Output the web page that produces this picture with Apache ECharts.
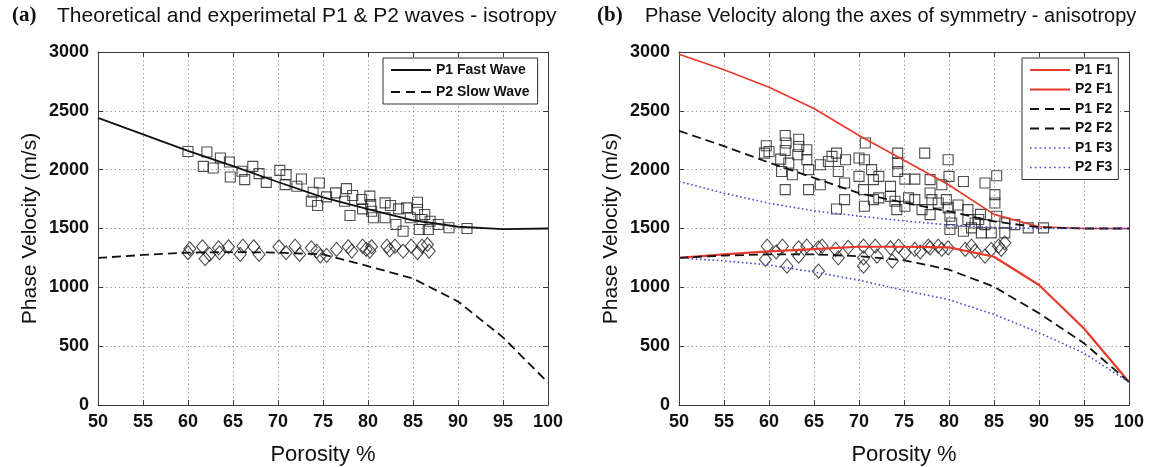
<!DOCTYPE html>
<html>
<head>
<meta charset="utf-8">
<script src="https://cdn.jsdelivr.net/npm/echarts@6/dist/echarts.min.js"></script>
<style>
html,body{margin:0;padding:0;background:#fff;}
#chart{width:1151px;height:467px;}
</style>
</head>
<body>
<div id="chart"></div>
<script>
// ---------- data ----------
var porosity = [50, 55, 60, 65, 70, 75, 80, 85, 90, 95, 100];
var xTicks = [50, 55, 60, 65, 70, 75, 80, 85, 90, 95, 100];
var yTicks = [0, 500, 1000, 1500, 2000, 2500, 3000];

// panel (a) theory
var p1Fast = [2440, 2300, 2160, 2030, 1895, 1765, 1665, 1570, 1515, 1495, 1500];
var p2Slow = [1250, 1275, 1295, 1300, 1295, 1280, 1180, 1075, 880, 575, 190];

// panel (a) experiments [porosity, velocity]
var squaresA = [
  [60.0,2155],[62.1,2150],[61.7,2028],[62.8,2014],[63.6,2099],[64.6,2065],[64.7,1938],[66.0,1986],
  [66.3,1915],[67.2,2028],[67.9,1966],[68.7,1892],[70.2,1994],[70.9,1958],[70.8,1873],[72.1,1859],
  [72.6,1921],[74.6,1887],[73.9,1808],[73.7,1731],[74.4,1695],[75.4,1769],[76.4,1803],[77.6,1839],
  [77.4,1731],[78.3,1780],[78.0,1610],[79.3,1746],[79.4,1667],[80.2,1775],[80.3,1703],[80.4,1646],
  [80.6,1591],[81.9,1718],[82.5,1695],[81.9,1591],[83.1,1534],[83.4,1667],[84.3,1675],[83.9,1477],
  [84.7,1591],[85.5,1723],[85.5,1661],[86.3,1619],[85.7,1491],[86.7,1491],[86.0,1576],[87.8,1534],
  [89.0,1506],[86.9,1562],[91.0,1500]
];
var diamondsA = [
  [60.0,1294],[60.2,1328],[61.6,1345],[61.9,1243],[62.4,1280],[63.4,1336],[63.5,1294],[64.5,1345],
  [65.8,1280],[66.1,1350],[67.3,1345],[67.9,1280],[70.1,1345],[70.9,1294],[71.9,1350],[72.4,1280],
  [73.7,1336],[74.3,1308],[74.7,1266],[75.4,1271],[76.5,1322],[77.8,1345],[78.2,1308],[79.4,1350],
  [79.8,1322],[80.4,1345],[80.2,1308],[82.1,1350],[82.4,1317],[83.0,1350],[83.9,1308],[84.8,1350],
  [85.5,1294],[86.0,1350],[86.6,1364],[86.8,1308]
];

// panel (b) theory
var p1F1 = [2980, 2850, 2700, 2520, 2290, 2080, 1870, 1620, 1515, 1500, 1500];
var p2F1 = [1250, 1280, 1305, 1325, 1345, 1345, 1340, 1260, 1020, 650, 195];
var p1F2 = [2330, 2200, 2060, 1930, 1800, 1720, 1645, 1560, 1510, 1500, 1500];
var p2F2 = [1250, 1270, 1280, 1280, 1265, 1230, 1150, 1005, 780, 525, 195];
var p1F3 = [1900, 1800, 1715, 1650, 1605, 1565, 1530, 1510, 1500, 1500, 1500];
var p2F3 = [1250, 1225, 1190, 1130, 1060, 975, 895, 770, 615, 440, 195];

// panel (b) experiments
var squaresB = [
  [59.7,2203],[60.0,2155],[59.5,2141],[61.8,2290],[61.9,2226],[61.8,2163],[61.3,2090],[61.4,1985],
  [63.3,2259],[63.3,2197],[63.2,2127],[64.2,2169],[64.2,2084],[64.4,2000],[62.2,2056],[62.6,1957],
  [61.8,1830],[64.4,1830],[65.7,2042],[65.7,1872],[67.0,2113],[67.5,2141],[67.7,1985],[68.5,2084],
  [68.4,1887],[68.4,1745],[67.5,1666],[66.6,2070],[70.7,2226],[70.0,2099],[70.6,2084],[70.0,1943],
  [70.5,1830],[70.6,1689],[71.4,2000],[71.6,1915],[72.2,1943],[71.6,1745],[72.2,1760],[73.5,1858],
  [73.5,1773],[74.0,1731],[74.3,2141],[74.3,2056],[74.3,1985],[74.2,1660],[75.1,1920],[76.2,1920],
  [75.5,1760],[76.2,1745],[75.1,1689],[77.3,2141],[77.9,1915],[77.9,1802],[78.1,1745],[77.9,1618],
  [78.8,1717],[79.2,1872],[79.9,2084],[80.0,1943],[79.7,1745],[79.9,1675],[80.1,1604],[80.1,1491],
  [80.3,1547],[81.6,1900],[82.1,1660],[82.1,1576],[81.6,1477],[82.5,1505],[83.3,1576],[84.0,1887],
  [84.0,1533],[85.3,1948],[85.1,1788],[85.1,1717],[85.3,1604],[86.2,1547],[86.2,1463],[87.3,1533],
  [88.8,1505],[90.5,1505],[84.7,1463],[83.6,1463],[82.9,1547],[83.5,1620],[81.0,1700],[77.0,1660]
];
var diamondsB = [
  [59.8,1350],[59.6,1237],[61.5,1350],[62.0,1180],[63.3,1336],[63.3,1265],[64.2,1350],[65.5,1336],
  [65.5,1138],[65.9,1350],[67.4,1322],[67.7,1251],[70.5,1350],[70.5,1251],[70.5,1180],[71.8,1350],
  [72.0,1265],[73.5,1336],[73.7,1223],[74.4,1350],[75.1,1293],[76.2,1322],[77.7,1350],[77.9,1336],
  [78.8,1350],[79.2,1322],[79.9,1336],[81.8,1322],[82.5,1350],[82.9,1308],[84.0,1265],[84.7,1322],
  [85.5,1350],[86.2,1378],[85.8,1322],[60.8,1300],[68.8,1340],[76.8,1300]
];

// ---------- chart ----------
function pairs(vals){ return porosity.map(function(p,i){ return [p, vals[i]]; }); }

var FONT = 'Liberation Sans, Arial, sans-serif';
var axisColor = '#3a3a3a';
var gridColor = '#8a8a8a';
var RED = '#e8392b';
var BLUE = '#4a4ad0';
var DASH = [9, 5];
var DOT = [1.6, 2.6];

// legend icon shapes (line samples)
var ICON_SOLID = 'path://M0,0h40v2h-40z';
var ICON_DASH = 'path://M0,0h9v2h-9z M15,0h9v2h-9z M30,0h10v2h-10z';
var ICON_DOT = (function(){
  var s = 'path://';
  for (var i = 0; i < 9; i++) { s += 'M' + (i * 4.6).toFixed(1) + ',0h1.6v1.6h-1.6z '; }
  return s;
})();

var grids = [
  {left: 98, top: 52, width: 450, height: 353, outerBoundsMode: 'none', containLabel: false},
  {left: 679, top: 52, width: 450, height: 353, outerBoundsMode: 'none', containLabel: false}
];

function mainX(gi){
  return {
    type:'value', gridIndex: gi, min: 50, max: 100, interval: 5,
    name: 'Porosity %', nameLocation: 'middle', nameGap: 39,
    nameTextStyle: {fontFamily: FONT, fontSize: 22, color: '#111'},
    axisLine: {show: true, onZero: false, lineStyle: {color: axisColor, width: 1}},
    axisTick: {show: true, inside: true, length: 5, lineStyle: {color: axisColor}},
    axisLabel: {fontFamily: FONT, fontWeight: 'bold', fontSize: 18, color: '#111', margin: 8,
      formatter: function(v){ return xTicks.indexOf(v) >= 0 ? String(v) : ''; }},
    splitLine: {show: true, lineStyle: {color: gridColor, type: [1.2, 3], width: 1}}
  };
}
function topX(gi){
  return {
    type:'value', gridIndex: gi, min: 50, max: 100, interval: 5, position: 'top',
    axisLine: {show: true, onZero: false, lineStyle: {color: axisColor, width: 1}},
    axisTick: {show: true, inside: true, length: 5, lineStyle: {color: axisColor}},
    axisLabel: {show: false}, splitLine: {show: false}
  };
}
function mainY(gi){
  return {
    type:'value', gridIndex: gi, min: 0, max: 3000, interval: 500,
    name: 'Phase Velocity (m/s)', nameLocation: 'middle', nameGap: 57,
    nameTextStyle: {fontFamily: FONT, fontSize: 21, color: '#111'},
    axisLine: {show: true, onZero: false, lineStyle: {color: axisColor, width: 1}},
    axisTick: {show: true, inside: true, length: 5, lineStyle: {color: axisColor}},
    axisLabel: {fontFamily: FONT, fontWeight: 'bold', fontSize: 18, color: '#111', margin: 9,
      formatter: function(v){ return yTicks.indexOf(v) >= 0 ? String(v) : ''; }},
    splitLine: {show: true, lineStyle: {color: gridColor, type: [1.2, 3], width: 1}}
  };
}
function rightY(gi){
  return {
    type:'value', gridIndex: gi, min: 0, max: 3000, interval: 500, position: 'right',
    axisLine: {show: true, onZero: false, lineStyle: {color: axisColor, width: 1}},
    axisTick: {show: true, inside: true, length: 5, lineStyle: {color: axisColor}},
    axisLabel: {show: false}, splitLine: {show: false}
  };
}

function lineSeries(name, vals, xi, yi, color, type, width){
  return {
    name: name, type: 'line', xAxisIndex: xi, yAxisIndex: yi,
    data: pairs(vals), symbol: 'none', smooth: false, z: 3,
    lineStyle: {color: color, type: type, width: width}, itemStyle: {color: color},
    animation: false
  };
}
function scatterSeries(name, data, xi, yi, symbol, size){
  return {
    name: name, type: 'scatter', xAxisIndex: xi, yAxisIndex: yi, data: data,
    symbol: symbol, symbolSize: size, z: 2,
    itemStyle: {color: 'rgba(255,255,255,0)', borderColor: '#222', borderWidth: 1.1},
    animation: false
  };
}

var legendCommon = {
  orient: 'vertical', backgroundColor: '#fff', borderColor: '#333', borderWidth: 1,
  itemWidth: 40, itemHeight: 14, selectedMode: false, symbolKeepAspect: true,
  textStyle: {fontFamily: FONT, fontWeight: 'bold', fontSize: 14, color: '#111'}
};

var option = {
  backgroundColor: '#fff',
  animation: false,
  grid: grids,
  xAxis: [mainX(0), mainX(1), topX(0), topX(1)],
  yAxis: [mainY(0), mainY(1), rightY(0), rightY(1)],
  legend: [
    Object.assign({}, legendCommon, {left: 383, top: 58, padding: [5, 8, 5, 8], itemGap: 8,
      data: [{name: 'P1 Fast Wave', icon: ICON_SOLID}, {name: 'P2 Slow Wave', icon: ICON_DASH}]}),
    Object.assign({}, legendCommon, {left: 1022, top: 58, padding: [5, 6, 5, 8], itemGap: 5.5,
      data: [
        {name: 'P1 F1', icon: ICON_SOLID}, {name: 'P2 F1', icon: ICON_SOLID},
        {name: 'P1 F2', icon: ICON_DASH}, {name: 'P2 F2', icon: ICON_DASH},
        {name: 'P1 F3', icon: ICON_DOT}, {name: 'P2 F3', icon: ICON_DOT}
      ]})
  ],
  graphic: [
    {type: 'text', left: 12, top: 5, style: {text: '(a)', font: 'bold 21px "Liberation Serif", "Times New Roman", serif', fill: '#111'}},
    {type: 'text', left: 57, top: 6, style: {text: 'Theoretical and experimetal P1 & P2 waves - isotropy', font: '21px ' + FONT, fill: '#111'}},
    {type: 'text', left: 597, top: 5, style: {text: '(b)', font: 'bold 21px "Liberation Serif", "Times New Roman", serif', fill: '#111'}},
    {type: 'text', left: 645, top: 6, style: {text: 'Phase Velocity along the axes of symmetry - anisotropy', font: '20px ' + FONT, fill: '#111'}}
  ],
  series: [
    scatterSeries('sqA', squaresA, 0, 0, 'rect', 10),
    scatterSeries('diaA', diamondsA, 0, 0, 'diamond', [12, 14]),
    lineSeries('P1 Fast Wave', p1Fast, 0, 0, '#111', 'solid', 1.8),
    lineSeries('P2 Slow Wave', p2Slow, 0, 0, '#111', DASH, 1.8),

    scatterSeries('sqB', squaresB, 1, 1, 'rect', 10),
    scatterSeries('diaB', diamondsB, 1, 1, 'diamond', [12, 14]),
    lineSeries('P1 F1', p1F1, 1, 1, RED, 'solid', 1.6),
    lineSeries('P2 F1', p2F1, 1, 1, RED, 'solid', 2.2),
    lineSeries('P1 F2', p1F2, 1, 1, '#111', DASH, 1.8),
    lineSeries('P2 F2', p2F2, 1, 1, '#111', DASH, 1.8),
    lineSeries('P1 F3', p1F3, 1, 1, BLUE, DOT, 1.6),
    lineSeries('P2 F3', p2F3, 1, 1, BLUE, DOT, 1.6)
  ]
};

var chart = echarts.init(document.getElementById('chart'), null, {renderer: 'canvas'});
chart.setOption(option);
</script>
</body>
</html>
